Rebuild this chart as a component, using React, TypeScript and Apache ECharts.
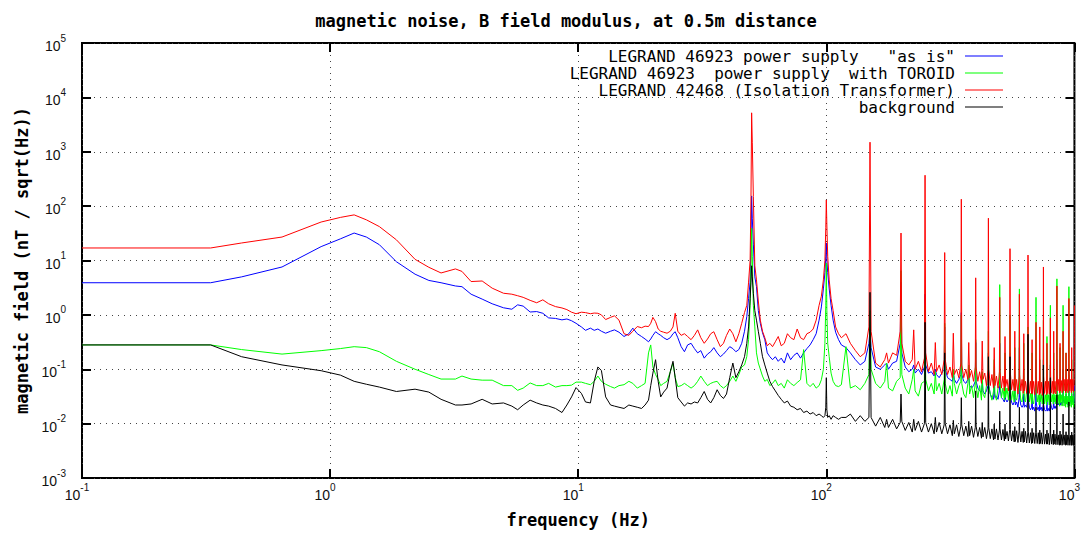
import React, { useEffect, useRef } from "react";
import * as echarts from "echarts";

const TITLE = "magnetic noise, B field modulus, at 0.5m distance";
const X_NAME = "frequency (Hz)";
const Y_NAME = "magnetic field (nT / sqrt(Hz))";
const SERIES_NAMES = [
  'LEGRAND 46923 power supply   "as is"',
  "LEGRAND 46923  power supply  with TOROID",
  "LEGRAND 42468 (Isolation Transformer)",
  "background",
];
const SERIES_COLORS = ["#0000ff", "#00ff00", "#ff0000", "#000000"];
const X_MIN = 0.1;
const X_MAX = 1000;
const Y_MIN = 0.001;
const Y_MAX = 100000;

// frequency grid (Hz)
const FREQ_LOW = [
  0.1, 0.33, 0.44, 0.64, 0.92, 1.1, 1.25, 1.4, 1.58, 1.85,
  2.2, 2.5, 2.8, 3.2, 3.4, 3.7, 4.1, 4.5, 5.0, 5.4,
  5.7, 6.0, 6.4, 6.8, 7.2, 7.6, 8.1, 8.6, 9.0, 9.4,
  9.8,
];
const FREQ_MID = [
  10.3, 10.7, 11.2, 11.6, 12.0, 12.4, 12.9, 13.5, 14.0, 14.6,
  15.3, 16.0, 16.6, 17.3, 18.0, 18.6, 19.2, 19.6, 20.0, 20.5,
  21.0, 21.5, 22.1, 22.8, 23.5, 24.1, 24.6, 25.2, 26.0, 26.8,
  27.6, 28.5, 29.4, 30.3, 31.2, 32.2, 33.2, 34.2, 35.2, 36.3,
  37.4, 38.5, 39.6, 40.8, 42.0, 43.2, 44.4, 45.6, 46.8, 47.8,
  48.6, 49.3,
];
const FREQ_PEAK = [
  49.7, 50.0, 50.3, 50.8, 51.5, 52.3, 53.2, 54.2, 55.3, 56.5,
  57.8, 59.2, 60.7, 62.3, 64, 65.8, 67.7, 69.7, 71.8, 74,
  76.3, 78.7, 81, 83.5, 86, 88.5, 91, 93.5, 95.5, 97.3,
  98.7, 99.5, 100, 100.5, 101.3, 102.7, 104.5, 106.5, 109, 112,
  115,
];
const FREQ_HIGH = [
  120, 125, 131, 137, 143, 148.5,
  150, 151.5, 158, 165, 172, 175, 178, 185, 192, 198.5,
  200, 201.5, 208, 215, 222, 225, 228, 235, 242, 248.5,
  250, 251.5, 258, 265, 272, 275, 278, 285, 292, 298.5,
  300, 301.5, 308, 315, 322, 325, 328, 335, 342, 348.5,
  350, 351.5, 358, 365, 372, 375, 378, 385, 392, 398.5,
  400, 401.5, 408, 415, 422, 425, 428, 435, 442, 448.5,
  450, 451.5, 458, 465, 472, 475, 478, 485, 492, 498.5,
  500, 501.5, 508, 515, 522, 525, 528, 535, 542, 548.5,
  550, 551.5, 558, 565, 572, 575, 578, 585, 592, 598.5,
  600, 601.5, 608, 615, 622, 625, 628, 635, 642, 648.5,
  650, 651.5, 658, 665, 672, 675, 678, 685, 692, 698.5,
  700, 701.5, 708, 715, 722, 725, 728, 735, 742, 748.5,
  750, 751.5, 758, 765, 772, 775, 778, 785, 792, 798.5,
  800, 801.5, 808, 815, 822, 825, 828, 835, 842, 848.5,
  850, 851.5, 858, 865, 872, 875, 878, 885, 892, 898.5,
  900, 901.5, 908, 915, 922, 925, 928, 935, 942, 948.5,
  950, 951.5, 958, 965, 972, 975, 978, 985, 992, 998.5,
  1000,
];

// LEGRAND 46923 "as is" (blue)
const BLUE_LOW = [
  3.9, 3.9, 5.0, 7.6, 18, 25, 32, 27, 19.5, 9.5,
  5.6, 4.3, 3.9, 3.4, 3.3, 2.4, 1.95, 1.6, 1.35, 1.27,
  1.53, 1.45, 1.13, 1.15, 1.07, 0.88, 0.86, 0.81, 0.84, 0.78,
  0.7,
];
const BLUE_MID = [
  0.6, 0.52, 0.57, 0.52, 0.55, 0.5, 0.46, 0.5, 0.53, 0.48,
  0.4, 0.45, 0.57, 0.45, 0.4, 0.36, 0.32, 0.36, 0.42, 0.49,
  0.45, 0.42, 0.38, 0.35, 0.38, 0.45, 0.49, 0.38, 0.26, 0.21,
  0.28, 0.3, 0.24, 0.2, 0.22, 0.16, 0.19, 0.21, 0.25, 0.2,
  0.17, 0.19, 0.22, 0.26, 0.24, 0.21, 0.23, 0.3, 0.5, 0.93,
  2.0, 4.0,
];
const BLUE_PEAK = [
  20, 154, 60, 20, 5, 3.3, 1.2, 0.7, 0.47, 0.35,
  0.2, 0.17, 0.15, 0.17, 0.14, 0.16, 0.13, 0.2, 0.15, 0.18,
  0.2, 0.16, 0.2, 0.24, 0.28, 0.35, 0.45, 0.8, 1.4, 3.0,
  6, 12, 21, 10, 6, 3.0, 1.5, 0.8, 0.48, 0.35,
  0.28,
];
const BLUE_HIGH = [
  0.25, 0.2, 0.15, 0.12, 0.14, 0.3,
  0.55, 0.25, 0.11, 0.1, 0.12, 0.13, 0.1, 0.13, 0.14, 0.3,
  4.0, 0.2, 0.11, 0.09, 0.1, 0.12, 0.085, 0.1, 0.08, 0.11,
  2.4, 0.12, 0.085, 0.09, 0.075, 0.1, 0.08, 0.07, 0.085, 0.1,
  0.6, 0.1, 0.07, 0.065, 0.06, 0.09, 0.065, 0.055, 0.065, 0.08,
  1.1, 0.08, 0.06, 0.055, 0.065, 0.08, 0.05, 0.045, 0.05, 0.06,
  0.31, 0.06, 0.045, 0.04, 0.038, 0.06, 0.04, 0.035, 0.04, 0.05,
  0.2, 0.05, 0.035, 0.03, 0.028, 0.05, 0.03, 0.032, 0.028, 0.04,
  0.3, 0.045, 0.03, 0.028, 0.025, 0.045, 0.028, 0.025, 0.028, 0.035,
  0.2, 0.035, 0.025, 0.022, 0.025, 0.04, 0.022, 0.025, 0.02, 0.03,
  0.25, 0.03, 0.022, 0.02, 0.022, 0.035, 0.02, 0.022, 0.02, 0.028,
  0.2, 0.028, 0.02, 0.018, 0.02, 0.03, 0.018, 0.02, 0.017, 0.025,
  0.15, 0.025, 0.018, 0.02, 0.017, 0.03, 0.018, 0.02, 0.017, 0.022,
  0.15, 0.022, 0.018, 0.017, 0.018, 0.028, 0.017, 0.019, 0.017, 0.022,
  0.12, 0.024, 0.02, 0.018, 0.02, 0.03, 0.019, 0.021, 0.019, 0.024,
  0.15, 0.028, 0.022, 0.024, 0.021, 0.035, 0.022, 0.025, 0.022, 0.028,
  0.1, 0.028, 0.024, 0.026, 0.022, 0.035, 0.024, 0.026, 0.022, 0.028,
  0.1, 0.03, 0.025, 0.027, 0.023, 0.035, 0.025, 0.027, 0.023, 0.028,
  0.05,
];

// LEGRAND 46923 with TOROID (green)
const GREEN_LOW = [
  0.28, 0.28, 0.23, 0.19, 0.22, 0.24, 0.26, 0.25, 0.21, 0.14,
  0.1, 0.08, 0.066, 0.066, 0.075, 0.066, 0.063, 0.063, 0.05, 0.05,
  0.041, 0.045, 0.056, 0.05, 0.05, 0.055, 0.047, 0.05, 0.05, 0.051,
  0.058,
];
const GREEN_MID = [
  0.058, 0.055, 0.052, 0.06, 0.075, 0.06, 0.053, 0.048, 0.045, 0.05,
  0.052, 0.06, 0.055, 0.045, 0.05, 0.055, 0.2, 0.28, 0.11, 0.08,
  0.065, 0.05, 0.055, 0.06, 0.09, 0.13, 0.07, 0.048, 0.05, 0.055,
  0.05, 0.045, 0.05, 0.06, 0.075, 0.06, 0.05, 0.055, 0.058, 0.06,
  0.05, 0.045, 0.05, 0.06, 0.075, 0.06, 0.08, 0.11, 0.12, 0.17,
  0.35, 1.5,
];
const GREEN_PEAK = [
  8, 39, 12, 1.5, 0.6, 0.2, 0.13, 0.1, 0.075, 0.06,
  0.065, 0.05, 0.055, 0.064, 0.05, 0.055, 0.045, 0.064, 0.055, 0.05,
  0.057, 0.064, 0.23, 0.055, 0.048, 0.055, 0.045, 0.05, 0.064, 0.1,
  0.3, 1.5, 9, 1.2, 0.3, 0.17, 0.085, 0.06, 0.05, 0.048,
  0.052,
];
const GREEN_HIGH = [
  0.26, 0.045, 0.05, 0.042, 0.055, 0.08,
  1.2, 0.1, 0.055, 0.045, 0.06, 0.13, 0.045, 0.04, 0.06, 0.07,
  6.5, 0.08, 0.045, 0.035, 0.065, 0.1, 0.04, 0.032, 0.055, 0.06,
  1.5, 0.065, 0.04, 0.055, 0.035, 0.09, 0.04, 0.055, 0.035, 0.065,
  0.7, 0.055, 0.035, 0.05, 0.032, 0.1, 0.055, 0.035, 0.05, 0.06,
  1.0, 0.055, 0.035, 0.03, 0.055, 0.12, 0.035, 0.05, 0.03, 0.055,
  0.35, 0.05, 0.03, 0.05, 0.027, 0.09, 0.035, 0.03, 0.05, 0.055,
  0.5, 0.05, 0.035, 0.027, 0.04, 0.15, 0.035, 0.027, 0.045, 0.05,
  3.6, 0.055, 0.03, 0.045, 0.027, 0.2, 0.03, 0.045, 0.027, 0.055,
  1.0, 0.045, 0.027, 0.04, 0.025, 0.25, 0.03, 0.027, 0.04, 0.05,
  3.0, 0.045, 0.027, 0.025, 0.04, 0.3, 0.027, 0.025, 0.04, 0.045,
  0.6, 0.045, 0.025, 0.036, 0.023, 0.2, 0.027, 0.023, 0.036, 0.042,
  2.1, 0.04, 0.025, 0.034, 0.022, 0.15, 0.025, 0.034, 0.023, 0.04,
  0.8, 0.04, 0.023, 0.034, 0.022, 0.4, 0.025, 0.034, 0.022, 0.04,
  1.5, 0.04, 0.025, 0.034, 0.023, 0.2, 0.025, 0.034, 0.023, 0.04,
  4.6, 0.04, 0.023, 0.034, 0.021, 0.25, 0.024, 0.034, 0.021, 0.036,
  1.5, 0.037, 0.021, 0.032, 0.02, 0.2, 0.023, 0.032, 0.02, 0.034,
  3.3, 0.036, 0.021, 0.032, 0.02, 0.15, 0.022, 0.032, 0.02, 0.034,
  0.04,
];

// LEGRAND 42468 Isolation Transformer (red)
const RED_LOW = [
  17, 17, 21, 27, 51, 62, 69, 56, 42, 24,
  10.5, 7.5, 5.9, 7.0, 6.3, 4.1, 4.2, 3.1, 2.5, 2.4,
  2.25, 2.1, 1.85, 1.67, 1.89, 1.6, 1.42, 1.34, 1.25, 1.12,
  1.05,
];
const RED_MID = [
  1.12, 1.1, 1.05, 1.08, 1.07, 1.0, 0.82, 0.9, 0.96, 0.8,
  0.45, 0.42, 0.5, 0.61, 0.58, 0.62, 0.61, 0.7, 0.9, 0.75,
  0.55, 0.5, 0.48, 0.46, 0.5, 0.6, 1.07, 0.5, 0.42, 0.45,
  0.4, 0.35, 0.42, 0.53, 0.38, 0.3, 0.36, 0.45, 0.49, 0.35,
  0.26, 0.3, 0.42, 0.55, 0.45, 0.32, 0.45, 0.7, 1.1, 1.5,
  4, 10,
];
const RED_PEAK = [
  150, 5200, 1500, 150, 8, 4.4, 1.8, 0.8, 0.5, 0.38,
  0.27, 0.3, 0.26, 0.32, 0.4, 0.27, 0.3, 0.45, 0.38, 0.35,
  0.55, 0.38, 0.35, 0.45, 0.48, 0.55, 0.8, 1.5, 2.2, 4.4,
  10, 40, 130, 45, 12, 4.4, 2.0, 1.2, 0.6, 0.45,
  0.38,
];
const RED_HIGH = [
  0.45, 0.3, 0.22, 0.17, 0.2, 0.6,
  1500, 0.5, 0.13, 0.11, 0.15, 0.2, 0.13, 0.2, 0.18, 0.5,
  32, 0.3, 0.14, 0.12, 0.15, 0.53, 0.1, 0.14, 0.09, 0.16,
  370, 0.2, 0.09, 0.13, 0.08, 0.31, 0.09, 0.12, 0.08, 0.15,
  14, 0.15, 0.08, 0.11, 0.07, 0.46, 0.08, 0.1, 0.07, 0.13,
  134, 0.12, 0.07, 0.1, 0.065, 0.31, 0.07, 0.095, 0.06, 0.11,
  4.8, 0.11, 0.06, 0.09, 0.055, 0.33, 0.065, 0.085, 0.05, 0.1,
  60, 0.1, 0.05, 0.08, 0.045, 0.25, 0.05, 0.075, 0.045, 0.09,
  2.1, 0.09, 0.045, 0.075, 0.04, 0.4, 0.048, 0.065, 0.04, 0.08,
  16.5, 0.09, 0.042, 0.065, 0.04, 0.5, 0.04, 0.065, 0.035, 0.075,
  2.4, 0.08, 0.04, 0.065, 0.036, 0.45, 0.04, 0.06, 0.036, 0.07,
  12.6, 0.08, 0.036, 0.06, 0.035, 0.35, 0.036, 0.06, 0.034, 0.065,
  0.73, 0.075, 0.036, 0.06, 0.034, 0.6, 0.036, 0.058, 0.033, 0.065,
  7.6, 0.075, 0.036, 0.06, 0.034, 0.3, 0.036, 0.06, 0.035, 0.07,
  0.88, 0.075, 0.037, 0.06, 0.035, 0.5, 0.037, 0.06, 0.035, 0.075,
  3.4, 0.08, 0.04, 0.065, 0.037, 0.3, 0.04, 0.062, 0.037, 0.075,
  0.5, 0.075, 0.04, 0.065, 0.037, 0.2, 0.04, 0.065, 0.037, 0.075,
  2.0, 0.08, 0.04, 0.065, 0.037, 0.25, 0.04, 0.065, 0.038, 0.07,
  1.5,
];

// background (black)
const BLACK_LOW = [
  0.28, 0.28, 0.17, 0.12, 0.094, 0.078, 0.06, 0.053, 0.047, 0.039,
  0.043, 0.038, 0.028, 0.022, 0.022, 0.023, 0.028, 0.023, 0.024, 0.021,
  0.018, 0.022, 0.027, 0.024, 0.022, 0.021, 0.019, 0.016, 0.022, 0.031,
  0.046,
];
const BLACK_MID = [
  0.036, 0.025, 0.024, 0.06, 0.11, 0.095, 0.031, 0.022, 0.021, 0.02,
  0.019, 0.022, 0.021, 0.02, 0.019, 0.022, 0.027, 0.05, 0.085, 0.15,
  0.06, 0.031, 0.038, 0.045, 0.09, 0.14, 0.07, 0.03, 0.025, 0.021,
  0.024, 0.023, 0.025, 0.024, 0.03, 0.039, 0.028, 0.024, 0.03, 0.042,
  0.033, 0.029, 0.035, 0.07, 0.13, 0.07, 0.09, 0.12, 0.17, 0.3,
  0.6, 2.0,
];
const BLACK_PEAK = [
  4, 8, 5, 2.5, 1.2, 0.8, 0.5, 0.3, 0.17, 0.12,
  0.085, 0.06, 0.048, 0.04, 0.033, 0.028, 0.024, 0.026, 0.021, 0.02,
  0.018, 0.019, 0.016, 0.017, 0.015, 0.016, 0.014, 0.015, 0.014, 0.013,
  0.014, 0.02, 0.07, 0.018, 0.013, 0.014, 0.012, 0.014, 0.013, 0.012,
  0.013,
];
const BLACK_HIGH = [
  0.013, 0.015, 0.011, 0.014, 0.011, 0.013,
  2.6, 0.013, 0.009, 0.013, 0.0085, 0.012, 0.0085, 0.012, 0.008, 0.0105,
  0.035, 0.011, 0.0075, 0.0105, 0.007, 0.012, 0.0075, 0.011, 0.007, 0.01,
  0.73, 0.0105, 0.007, 0.01, 0.0065, 0.013, 0.007, 0.0105, 0.0065, 0.0095,
  0.2, 0.01, 0.0065, 0.0095, 0.006, 0.0115, 0.0065, 0.0095, 0.0058, 0.009,
  0.03, 0.0095, 0.006, 0.009, 0.0058, 0.011, 0.006, 0.009, 0.0056, 0.0085,
  0.04, 0.009, 0.0058, 0.0085, 0.0054, 0.0105, 0.0057, 0.0085, 0.0053, 0.008,
  0.17, 0.0085, 0.0053, 0.008, 0.005, 0.0098, 0.0052, 0.008, 0.005, 0.0076,
  0.017, 0.008, 0.005, 0.0078, 0.0048, 0.0098, 0.0052, 0.0072, 0.0048, 0.0078,
  0.17, 0.0078, 0.0048, 0.0074, 0.0046, 0.0088, 0.0047, 0.0074, 0.0045, 0.0072,
  0.02, 0.0074, 0.0046, 0.0072, 0.0045, 0.0082, 0.0046, 0.0072, 0.0044, 0.0068,
  0.44, 0.0072, 0.0044, 0.0068, 0.0043, 0.0082, 0.0044, 0.0068, 0.0043, 0.0068,
  0.02, 0.0068, 0.0043, 0.0068, 0.0042, 0.0076, 0.0043, 0.0068, 0.0042, 0.0063,
  0.12, 0.0068, 0.0042, 0.0064, 0.0042, 0.0076, 0.0042, 0.0066, 0.0041, 0.0063,
  0.07, 0.0066, 0.0042, 0.0064, 0.0041, 0.0076, 0.0042, 0.0064, 0.0041, 0.0062,
  0.034, 0.0064, 0.0041, 0.0062, 0.004, 0.0073, 0.0041, 0.0063, 0.004, 0.0062,
  0.015, 0.0064, 0.0041, 0.0062, 0.004, 0.0071, 0.0041, 0.0062, 0.004, 0.0062,
  0.025, 0.0064, 0.004, 0.0061, 0.004, 0.007, 0.004, 0.0062, 0.004, 0.006,
  0.005,
];

const FREQ = [...FREQ_LOW, ...FREQ_MID, ...FREQ_PEAK, ...FREQ_HIGH];
const SERIES_VALUES = [
  [...BLUE_LOW, ...BLUE_MID, ...BLUE_PEAK, ...BLUE_HIGH],
  [...GREEN_LOW, ...GREEN_MID, ...GREEN_PEAK, ...GREEN_HIGH],
  [...RED_LOW, ...RED_MID, ...RED_PEAK, ...RED_HIGH],
  [...BLACK_LOW, ...BLACK_MID, ...BLACK_PEAK, ...BLACK_HIGH],
];

const MONO = "'DejaVu Sans Mono', monospace";
const SANS = "'Liberation Sans', Arial, sans-serif";

const GRID = { left: 82, top: 43, width: 994, height: 435 };
const LEGEND_TEXT_X = 955;
const LEGEND_LINE_X1 = 965;
const LEGEND_LINE_X2 = 1003;
const LEGEND_Y0 = 56;
const LEGEND_DY = 17;

const powLabel = (v: number) => {
  const e = Math.round(Math.log10(v));
  return `{b|10}{s|${e}}`;
};
const labelRich = {
  b: { fontFamily: SANS, fontSize: 14, color: "#111", lineHeight: 20, verticalAlign: "bottom" },
  s: { fontFamily: SANS, fontSize: 10, color: "#111", lineHeight: 9, verticalAlign: "top" },
};
const tickStyle = { show: true, inside: true, length: 9, lineStyle: { color: "#000", width: 2 } };
const gridLine = { show: true, lineStyle: { color: "#444", type: [1, 5], width: 1 } };
const nameStyle = { fontFamily: MONO, fontWeight: "bold", fontSize: 17, color: "#000" };

export default function App() {
  const ref = useRef<HTMLDivElement>(null);
  useEffect(() => {
    if (!ref.current) return;
    const chart = echarts.init(ref.current, null, { renderer: "svg" });
    const legendGraphics: any[] = [];
    SERIES_NAMES.forEach((name, i) => {
      const y = LEGEND_Y0 + i * LEGEND_DY;
      legendGraphics.push({
        type: "text",
        x: LEGEND_TEXT_X,
        y,
        z: 100,
        style: {
          text: name,
          textAlign: "right",
          textVerticalAlign: "middle",
          fontFamily: MONO,
          fontSize: 16,
          fill: "#000",
        },
      });
      legendGraphics.push({
        type: "line",
        z: 100,
        shape: { x1: LEGEND_LINE_X1, y1: y, x2: LEGEND_LINE_X2, y2: y },
        style: { stroke: SERIES_COLORS[i], lineWidth: 1.2 },
      });
    });

    const option: any = {
      animation: false,
      backgroundColor: "#ffffff",
      title: {
        text: TITLE,
        left: 561,
        top: 7,
        textAlign: "center",
        textStyle: { fontFamily: MONO, fontWeight: "bold", fontSize: 17, color: "#000" },
      },
      grid: {
        ...GRID,
        show: true,
        borderColor: "#000",
        borderWidth: 2,
        backgroundColor: "transparent",
        containLabel: false,
      },
      xAxis: [
        {
          type: "log",
          logBase: 10,
          min: X_MIN,
          max: X_MAX,
          splitNumber: 4,
          position: "bottom",
          name: X_NAME,
          nameLocation: "middle",
          nameGap: 33,
          nameTextStyle: nameStyle,
          axisLine: { show: false },
          axisTick: tickStyle,
          minorTick: { show: false },
          splitLine: gridLine,
          axisLabel: { margin: 4, padding: [0, 10, 0, 0], formatter: powLabel, rich: labelRich },
        },
        {
          type: "log",
          logBase: 10,
          min: X_MIN,
          max: X_MAX,
          splitNumber: 4,
          position: "top",
          axisLine: { show: false },
          axisTick: tickStyle,
          minorTick: { show: false },
          splitLine: { show: false },
          axisLabel: { show: false },
        },
      ],
      yAxis: [
        {
          type: "log",
          logBase: 10,
          min: Y_MIN,
          max: Y_MAX,
          splitNumber: 8,
          position: "left",
          name: Y_NAME,
          nameLocation: "middle",
          nameGap: 52,
          nameRotate: 90,
          nameTextStyle: nameStyle,
          axisLine: { show: false },
          axisTick: tickStyle,
          minorTick: { show: false },
          splitLine: gridLine,
          axisLabel: { margin: 16, formatter: powLabel, rich: labelRich },
        },
        {
          type: "log",
          logBase: 10,
          min: Y_MIN,
          max: Y_MAX,
          splitNumber: 8,
          position: "right",
          axisLine: { show: false },
          axisTick: tickStyle,
          minorTick: { show: false },
          splitLine: { show: false },
          axisLabel: { show: false },
        },
      ],
      series: SERIES_NAMES.map((name, i) => ({
        name,
        type: "line",
        xAxisIndex: 0,
        yAxisIndex: 0,
        symbol: "none",
        showSymbol: false,
        silent: true,
        lineStyle: { color: SERIES_COLORS[i], width: 1 },
        itemStyle: { color: SERIES_COLORS[i] },
        emphasis: { disabled: true },
        data: FREQ.map((f, k) => [f, SERIES_VALUES[i][k]]),
      })),
      graphic: legendGraphics,
    };
    chart.setOption(option);
    return () => chart.dispose();
  }, []);
  return (
    <div
      ref={ref}
      style={{ position: "absolute", left: 0, top: 0, width: 1083, height: 533, background: "#fff" }}
    />
  );
}
